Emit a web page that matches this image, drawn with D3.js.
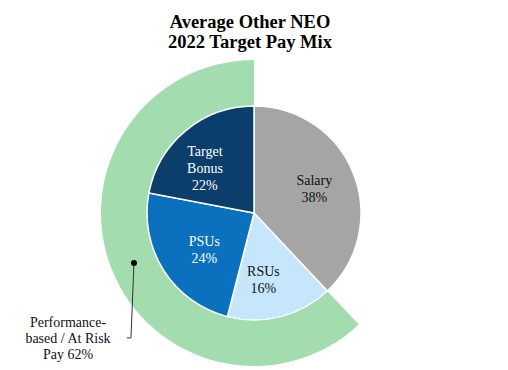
<!DOCTYPE html>
<html>
<head>
<meta charset="UTF-8">
<script src="https://d3js.org/d3.v7.min.js"></script>
<style>
  body { margin: 0; background: #fff; }
</style>
</head>
<body>
<svg></svg>
<script>
let width = 508, height = 370;
let serif = "Liberation Serif";

// data
let categories = ["Salary", "RSUs", "PSUs", "Target Bonus"];
let labelLines = [["Salary"], ["RSUs"], ["PSUs"], ["Target", "Bonus"]];
let values = [38, 16, 24, 22];
let colors = ["#a5a5a5", "#c5e6fb", "#0b70be", "#0c3e6b"];
let textColors = ["#111", "#111", "#fff", "#fff"];
let atRiskValue = 62;
let atRiskLabel = ["Performance-", "based / At Risk", "Pay 62%"];
let titleLines = ["Average Other NEO", "2022 Target Pay Mix"];

// small nudges of the slice labels off the centroid
let labelNudge = [[-1, 0], [-7, 3], [6, 1], [-7, 6]];

let svg = d3.select("svg").attr("width", width).attr("height", height)
  .attr("font-family", serif);

let cx = 254, cy = 213, r = 107, ringOuter = 153;

// title
svg.append("g").selectAll("text")
  .data(titleLines).enter().append("text")
  .attr("x", 250)
  .attr("y", (d, i) => 28 + i * 20)
  .attr("text-anchor", "middle")
  .attr("font-family", serif)
  .attr("font-size", "18.5px")
  .attr("font-weight", "bold")
  .attr("fill", "#000")
  .text(d => d);

let g = svg.append("g").attr("transform", `translate(${cx},${cy})`);

// outer ring for at-risk pay
let total = d3.sum(values);
let ringStart = (1 - atRiskValue / total) * 2 * Math.PI;
let ringArc = d3.arc().innerRadius(r).outerRadius(ringOuter);
g.append("path")
  .attr("d", ringArc({ startAngle: ringStart, endAngle: 2 * Math.PI }))
  .attr("fill", "#a3dcae");

// pie
let pie = d3.pie().sort(null).value(d => d)(values);
let arc = d3.arc().innerRadius(0).outerRadius(r);
let labelArc = d3.arc().innerRadius(66).outerRadius(66);

g.selectAll("path.slice")
  .data(pie).enter().append("path")
  .attr("class", "slice")
  .attr("d", arc)
  .attr("fill", (d, i) => colors[i])
  .attr("stroke", "#fff")
  .attr("stroke-width", 1.5);

g.selectAll("g.label")
  .data(pie).enter().append("g")
  .attr("class", "label")
  .each(function (d, i) {
    let c = labelArc.centroid(d);
    let x = c[0] + labelNudge[i][0], y = c[1] + labelNudge[i][1];
    let lines = labelLines[i].concat([values[i] + "%"]);
    let top = y - (lines.length - 1) * 17 / 2 + 5;
    d3.select(this).selectAll("text")
      .data(lines).enter().append("text")
      .attr("x", x)
      .attr("y", (l, j) => top + j * 17)
      .attr("text-anchor", "middle")
      .attr("font-family", serif)
      .attr("font-size", "14px")
      .attr("fill", textColors[i])
      .text(l => l);
  });

// callout
let dotAngle = 247.4 * Math.PI / 180;
let dotR = (r + ringOuter) / 2;
let dx = dotR * Math.sin(dotAngle), dy = -dotR * Math.cos(dotAngle);
g.append("polyline")
  .attr("points", [[dx, dy], [dx - 3, dy + 75], [dx - 7, dy + 75]].map(p => p.join(",")).join(" "))
  .attr("fill", "none")
  .attr("stroke", "#333")
  .attr("stroke-width", 1);
g.append("circle").attr("cx", dx).attr("cy", dy).attr("r", 3).attr("fill", "#000");

svg.append("g").selectAll("text")
  .data(atRiskLabel).enter().append("text")
  .attr("x", 68)
  .attr("y", (d, i) => 327 + i * 16)
  .attr("text-anchor", "middle")
  .attr("font-family", serif)
  .attr("font-size", "14px")
  .attr("fill", "#111")
  .text(d => d);
</script>
</body>
</html>
